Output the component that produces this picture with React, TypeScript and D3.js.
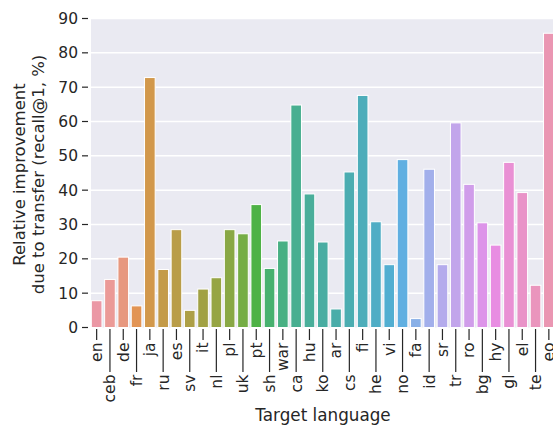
import { useEffect, useRef } from 'react';
import * as d3 from 'd3';

// Target languages, in plot order
const languages = [
    'en', 'ceb', 'de', 'fr', 'ja', 'ru', 'es', 'sv', 'it', 'nl', 'pl', 'uk',
    'pt', 'sh', 'war', 'ca', 'hu', 'ko', 'ar', 'cs', 'fi', 'he', 'vi', 'no',
    'fa', 'id', 'sr', 'tr', 'ro', 'bg', 'hy', 'gl', 'el', 'te', 'eo',
];

// Relative improvement due to transfer (recall@1, %)
const improvement = [
    7.8, 14.0, 20.5, 6.3, 72.8, 16.9, 28.5, 5.0, 11.2, 14.5, 28.5, 27.3,
    35.8, 17.2, 25.2, 64.8, 38.9, 24.9, 5.4, 45.3, 67.6, 30.8, 18.3, 48.9,
    2.6, 46.1, 18.3, 59.6, 41.7, 30.5, 24.0, 48.1, 39.3, 12.3, 85.7,
];

const yTicks = [0, 10, 20, 30, 40, 50, 60, 70, 80, 90];

// husl (hsluv) -> rgb, used for the seaborn-like palette
const M = [
    [3.240969941904521, -1.537383177570093, -0.498610760293],
    [-0.96924363628087, 1.87596750150772, 0.041555057407175],
    [0.055630079696993, -0.20397695888897, 1.056971514242878],
];
const kappa = 903.2962962;
const epsilon = 0.0088564516;

function maxChroma(L: number, H: number) {
    const hrad = (H / 360) * Math.PI * 2;
    const sub1 = Math.pow(L + 16, 3) / 1560896;
    const sub2 = sub1 > epsilon ? sub1 : L / kappa;
    let min = Infinity;
    for (const [m1, m2, m3] of M) {
        for (const t of [0, 1]) {
            const top1 = (284517 * m1 - 94839 * m3) * sub2;
            const top2 = (838422 * m3 + 769860 * m2 + 731718 * m1) * L * sub2 - 769860 * t * L;
            const bottom = (632260 * m3 - 126452 * m2) * sub2 + 126452 * t;
            const slope = top1 / bottom;
            const intercept = top2 / bottom;
            const len = intercept / (Math.sin(hrad) - slope * Math.cos(hrad));
            if (len >= 0) min = Math.min(min, len);
        }
    }
    return min;
}

function husl(H: number, S: number, L: number) {
    const C = (maxChroma(L, H) / 100) * S;
    const hrad = (H / 360) * Math.PI * 2;
    const U = C * Math.cos(hrad);
    const V = C * Math.sin(hrad);
    const varU = U / (13 * L) + 0.19783000664283;
    const varV = V / (13 * L) + 0.46831999493879;
    const Y = L <= 8 ? L / kappa : Math.pow((L + 16) / 116, 3);
    const X = 0 - (9 * Y * varU) / ((varU - 4) * varV - varU * varV);
    const Z = (9 * Y - 15 * varV * Y - varV * X) / (3 * varV);
    const lin = M.map(([a, b, c]) => a * X + b * Y + c * Z);
    const rgb = lin.map(c => (c <= 0.0031308 ? 12.92 * c : 1.055 * Math.pow(c, 1 / 2.4) - 0.055));
    const col = d3.hsl(d3.rgb(rgb[0] * 255, rgb[1] * 255, rgb[2] * 255));
    col.s *= 0.75;
    return col.formatHex();
}

const App = () => {
    const svgRef = useRef<SVGSVGElement>(null);

    useEffect(() => {
        if (!svgRef.current) return;
        const svg = d3.select(svgRef.current);
        svg.selectAll('*').remove();

        const n = languages.length;
        const colors = languages.map((_, i) => husl(((i / n + 0.01) % 1) * 359, 90, 70));

        const x = d3.scaleBand<string>()
            .domain(languages)
            .range([90, 555.5])
            .paddingInner(0.2)
            .paddingOuter(0.1);

        const y = d3.scaleLinear().domain([0, 90]).range([327.5, 18.5]);

        const font = 'DejaVu Sans, sans-serif';
        const ink = '#262626';

        // background
        svg.append('rect')
            .attr('x', 91)
            .attr('y', y(90))
            .attr('width', 553 - 91)
            .attr('height', y(0) - y(90))
            .attr('fill', '#eaeaf2');

        // grid
        svg.append('g')
            .selectAll('line')
            .data(yTicks.slice(1))
            .enter()
            .append('line')
            .attr('x1', 91)
            .attr('x2', 553)
            .attr('y1', d => y(d))
            .attr('y2', d => y(d))
            .attr('stroke', '#fff')
            .attr('stroke-width', 1.5);

        // y ticks
        const yg = svg.append('g');
        yTicks.forEach(t => {
            yg.append('line')
                .attr('x1', 82).attr('x2', 88)
                .attr('y1', y(t)).attr('y2', y(t))
                .attr('stroke', ink).attr('stroke-width', 1.2);
            yg.append('text')
                .attr('x', 78)
                .attr('y', y(t))
                .attr('dy', '0.35em')
                .attr('text-anchor', 'end')
                .attr('font-family', font)
                .attr('font-size', 15.5)
                .attr('fill', ink)
                .text(t);
        });

        // bars
        svg.append('g')
            .selectAll('rect')
            .data(languages)
            .enter()
            .append('rect')
            .attr('x', d => x(d) || 0)
            .attr('y', (_, i) => y(improvement[i]))
            .attr('width', x.bandwidth())
            .attr('height', (_, i) => y(0) - y(improvement[i]))
            .attr('fill', (_, i) => colors[i])
            .attr('stroke', '#fff')
            .attr('stroke-width', 1);

        // x ticks, staggered
        const xg = svg.append('g');
        languages.forEach((lang, i) => {
            const cx = (x(lang) || 0) + x.bandwidth() / 2;
            const long = i % 2 === 1;
            const end = long ? 372 : 340;
            xg.append('line')
                .attr('x1', cx).attr('x2', cx)
                .attr('y1', 329).attr('y2', end)
                .attr('stroke', ink).attr('stroke-width', 1.2);
            xg.append('text')
                .attr('transform', `translate(${cx},${end + 2.5}) rotate(-90)`)
                .attr('dy', '0.35em')
                .attr('text-anchor', 'end')
                .attr('font-family', font)
                .attr('font-size', 15.5)
                .attr('fill', ink)
                .text(lang);
        });

        // axis labels
        svg.append('text')
            .attr('x', 323)
            .attr('y', 421)
            .attr('text-anchor', 'middle')
            .attr('font-family', font)
            .attr('font-size', 16.8)
            .attr('fill', ink)
            .text('Target language');

        const yl = svg.append('text')
            .attr('transform', 'translate(25,174.5) rotate(-90)')
            .attr('text-anchor', 'middle')
            .attr('font-family', font)
            .attr('font-size', 16.5)
            .attr('fill', ink);
        yl.append('tspan').attr('x', 0).attr('y', 0).text('Relative improvement');
        yl.append('tspan').attr('x', 0).attr('y', 18.5).text('due to transfer (recall@1, %)');
    }, []);

    return (
        <div style={{ position: 'fixed', left: 0, top: 0, width: 553, height: 426, overflow: 'hidden', background: '#fff' }}>
            <svg ref={svgRef} width={553} height={426} style={{ display: 'block' }}></svg>
        </div>
    );
};

export default App;
